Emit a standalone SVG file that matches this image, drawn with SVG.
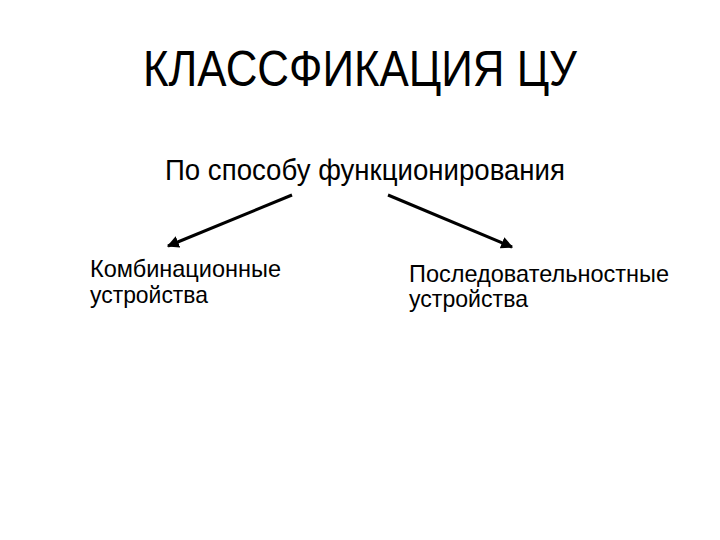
<svg xmlns="http://www.w3.org/2000/svg" width="720" height="540" viewBox="0 0 720 540">
<defs>
<style>
text{fill:#000;font-family:"Liberation Sans",Arial,sans-serif}
.t{font-size:50px}
.s{font-size:30px}
.n{font-size:24px}
.c{stroke:#000;stroke-width:3;fill:none;marker-end:url(#ah)}
</style>
<marker id="ah" viewBox="0 0 10 10" refX="9" refY="5" markerWidth="4" markerHeight="4" orient="auto" markerUnits="strokeWidth">
<path d="M0,0 L10,5 L0,10 z" fill="#000"/>
</marker>
</defs>
<rect width="720" height="540" fill="#fff"/>
<g id="title"><text class="t" x="143" y="86" textLength="434" lengthAdjust="spacingAndGlyphs">КЛАССФИКАЦИЯ ЦУ</text></g>
<g id="root"><text class="s" x="165" y="180" textLength="400" lengthAdjust="spacingAndGlyphs">По способу функционирования</text></g>
<g id="connectors">
<line class="c" x1="292" y1="195" x2="168" y2="246"/>
<line class="c" x1="388" y1="195" x2="512" y2="247"/>
</g>
<g id="left"><text class="n" x="90" y="277" textLength="191" lengthAdjust="spacingAndGlyphs">Комбинационные</text><text class="n" x="90" y="303" textLength="118" lengthAdjust="spacingAndGlyphs">устройства</text></g>
<g id="right"><text class="n" x="409" y="282" textLength="260" lengthAdjust="spacingAndGlyphs">Последовательностные</text><text class="n" x="409" y="307" textLength="119" lengthAdjust="spacingAndGlyphs">устройства</text></g>
</svg>
